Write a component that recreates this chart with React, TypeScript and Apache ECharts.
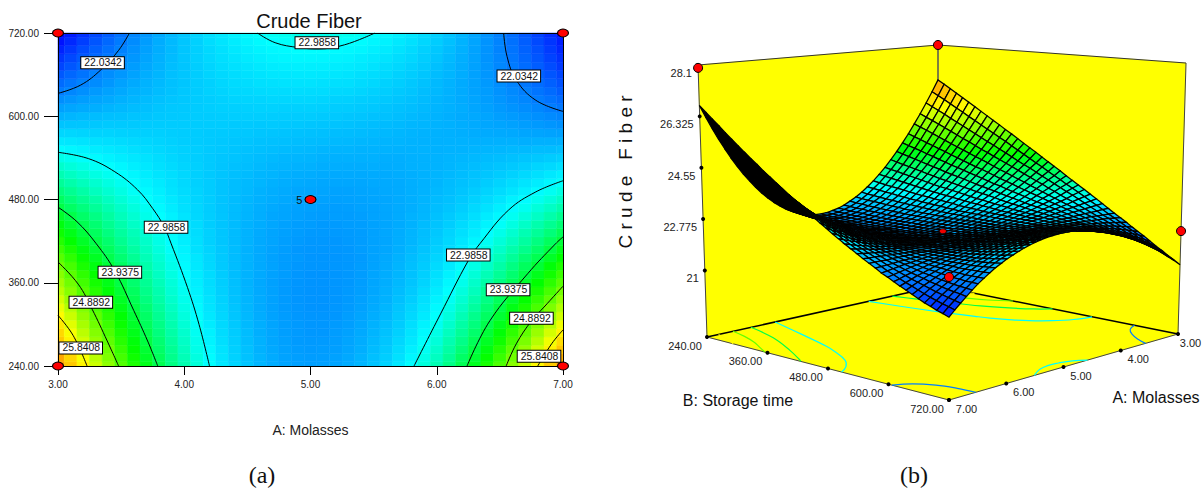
import React, { useEffect, useRef } from "react";
import * as echarts from "echarts";

// Crude Fiber x 100: rows run over B (240 -> 720, step 12), columns over A (3 -> 7, step 0.1)
const Z_X100 = [
[2674,2630,2589,2550,2514,2479,2447,2417,2389,2363,2340,2319,2300,2283,2269,2257,2246,2238,2233,2229,2228,2229,2232,2238,2245,2255,2267,2282,2298,2317,2338,2361,2387,2414,2444,2476,2511,2547,2586,2627,2670],
[2659,2617,2577,2539,2504,2470,2439,2410,2383,2358,2336,2315,2297,2280,2266,2254,2244,2237,2231,2228,2226,2227,2230,2235,2243,2252,2263,2277,2293,2311,2331,2353,2378,2404,2433,2463,2496,2532,2569,2608,2650],
[2644,2604,2565,2529,2495,2462,2432,2404,2377,2354,2332,2311,2294,2278,2264,2253,2242,2235,2230,2226,2225,2226,2228,2233,2240,2249,2260,2273,2288,2305,2325,2346,2369,2395,2422,2452,2484,2517,2553,2591,2630],
[2629,2590,2553,2518,2485,2453,2425,2397,2372,2349,2328,2308,2291,2275,2263,2251,2242,2234,2229,2225,2224,2225,2227,2232,2238,2247,2257,2269,2283,2300,2318,2339,2360,2385,2411,2439,2470,2502,2536,2572,2611],
[2614,2576,2540,2507,2475,2445,2417,2391,2366,2344,2324,2305,2289,2273,2261,2250,2240,2234,2228,2225,2223,2223,2226,2230,2236,2244,2254,2265,2279,2295,2312,2332,2352,2375,2401,2427,2457,2487,2520,2554,2590],
[2599,2563,2528,2496,2465,2436,2410,2384,2361,2340,2320,2302,2285,2271,2259,2248,2240,2232,2227,2224,2222,2222,2225,2228,2234,2242,2251,2261,2275,2290,2306,2325,2345,2366,2391,2416,2443,2472,2504,2537,2571],
[2584,2549,2516,2485,2455,2428,2402,2378,2355,2335,2316,2298,2283,2269,2257,2247,2238,2231,2226,2223,2221,2221,2222,2227,2232,2239,2247,2259,2271,2284,2300,2317,2337,2358,2380,2404,2431,2459,2488,2519,2552],
[2569,2536,2504,2474,2446,2419,2395,2372,2350,2330,2312,2295,2280,2267,2256,2246,2237,2230,2225,2222,2220,2220,2222,2225,2230,2237,2245,2256,2267,2280,2295,2311,2329,2349,2371,2394,2419,2445,2473,2503,2534],
[2554,2522,2492,2464,2437,2411,2387,2365,2344,2325,2308,2292,2278,2266,2254,2245,2237,2230,2225,2221,2220,2220,2221,2224,2229,2235,2242,2252,2263,2276,2290,2305,2322,2341,2362,2384,2407,2432,2459,2486,2516],
[2539,2509,2480,2453,2427,2403,2381,2359,2340,2321,2305,2290,2276,2264,2253,2244,2236,2230,2225,2221,2220,2220,2221,2224,2228,2234,2241,2250,2260,2272,2285,2299,2316,2333,2353,2373,2395,2419,2444,2471,2499],
[2525,2496,2468,2442,2418,2395,2374,2354,2335,2318,2302,2287,2274,2263,2252,2243,2235,2229,2225,2221,2220,2220,2221,2223,2227,2233,2239,2247,2256,2267,2280,2294,2309,2326,2344,2363,2384,2406,2430,2455,2481],
[2510,2483,2457,2433,2410,2387,2367,2348,2330,2314,2299,2285,2273,2261,2251,2243,2236,2230,2226,2222,2220,2220,2221,2223,2226,2232,2238,2245,2254,2264,2276,2289,2303,2319,2336,2353,2373,2394,2416,2440,2465],
[2496,2471,2445,2422,2401,2380,2361,2342,2325,2310,2296,2283,2271,2260,2251,2243,2236,2231,2226,2223,2221,2221,2222,2223,2226,2231,2237,2244,2252,2261,2272,2284,2297,2312,2327,2344,2363,2382,2403,2426,2448],
[2481,2457,2434,2412,2391,2372,2354,2336,2321,2306,2293,2281,2269,2259,2250,2243,2236,2230,2226,2224,2221,2221,2221,2223,2225,2230,2235,2242,2250,2258,2268,2279,2292,2304,2319,2335,2352,2371,2389,2410,2432],
[2466,2444,2422,2402,2382,2364,2347,2331,2316,2302,2290,2277,2267,2258,2250,2242,2236,2231,2227,2223,2222,2222,2222,2223,2226,2230,2234,2240,2247,2255,2264,2274,2286,2299,2311,2326,2342,2358,2376,2396,2416],
[2452,2431,2410,2392,2374,2356,2340,2326,2312,2298,2287,2276,2265,2257,2249,2243,2236,2232,2228,2225,2223,2223,2222,2224,2226,2230,2233,2239,2245,2252,2261,2270,2281,2292,2304,2318,2332,2348,2364,2382,2400],
[2438,2418,2399,2382,2365,2349,2335,2321,2308,2296,2285,2274,2265,2257,2249,2243,2237,2232,2229,2226,2224,2224,2224,2225,2226,2230,2234,2238,2244,2251,2258,2267,2276,2286,2298,2310,2323,2338,2352,2368,2385],
[2423,2405,2389,2372,2356,2342,2328,2315,2304,2292,2282,2273,2263,2256,2249,2243,2238,2234,2230,2227,2226,2224,2225,2226,2227,2230,2233,2237,2242,2249,2255,2263,2272,2281,2291,2302,2314,2327,2341,2355,2370],
[2409,2393,2377,2362,2348,2334,2322,2310,2299,2289,2280,2270,2263,2256,2249,2244,2239,2234,2232,2229,2227,2226,2227,2226,2228,2231,2233,2237,2242,2246,2253,2260,2267,2275,2285,2294,2305,2317,2329,2342,2356],
[2395,2379,2366,2352,2339,2327,2316,2305,2295,2286,2277,2269,2262,2255,2250,2245,2240,2236,2233,2230,2229,2228,2227,2228,2230,2231,2234,2237,2240,2245,2251,2256,2263,2271,2278,2287,2297,2306,2318,2329,2341],
[2381,2367,2355,2343,2331,2320,2310,2300,2291,2283,2275,2268,2262,2255,2250,2246,2241,2238,2235,2232,2231,2230,2229,2230,2231,2232,2234,2237,2240,2244,2249,2253,2259,2266,2272,2280,2289,2297,2307,2317,2328],
[2366,2355,2344,2332,2322,2313,2303,2295,2288,2279,2273,2267,2261,2255,2251,2247,2242,2239,2237,2234,2233,2232,2231,2231,2232,2233,2235,2237,2240,2243,2247,2251,2256,2261,2267,2273,2280,2288,2296,2305,2314],
[2352,2342,2333,2323,2314,2306,2298,2290,2284,2277,2271,2265,2261,2255,2251,2248,2245,2241,2239,2237,2235,2234,2234,2234,2234,2235,2236,2237,2240,2242,2245,2249,2253,2257,2262,2267,2273,2280,2286,2293,2301],
[2338,2330,2322,2313,2306,2299,2293,2286,2280,2275,2270,2264,2260,2256,2252,2249,2246,2244,2241,2239,2238,2237,2236,2236,2236,2237,2237,2238,2240,2242,2244,2247,2250,2254,2257,2261,2266,2271,2276,2282,2288],
[2325,2318,2312,2304,2298,2293,2287,2282,2277,2272,2268,2264,2260,2256,2253,2251,2248,2245,2244,2242,2241,2239,2239,2238,2238,2239,2238,2239,2241,2242,2243,2245,2248,2250,2253,2256,2259,2263,2268,2271,2276],
[2311,2306,2301,2296,2290,2286,2282,2278,2274,2269,2266,2263,2260,2257,2255,2252,2250,2248,2246,2245,2244,2242,2241,2241,2241,2241,2240,2240,2241,2242,2243,2244,2246,2247,2249,2251,2253,2256,2258,2261,2264],
[2297,2293,2290,2286,2283,2280,2276,2273,2270,2267,2265,2263,2260,2258,2256,2254,2252,2251,2249,2248,2247,2245,2244,2244,2243,2243,2243,2242,2242,2243,2242,2243,2243,2244,2245,2246,2247,2248,2250,2250,2252],
[2283,2281,2279,2277,2275,2273,2271,2269,2267,2265,2263,2261,2260,2258,2257,2256,2254,2253,2252,2251,2250,2249,2248,2247,2246,2245,2244,2244,2243,2242,2242,2242,2242,2241,2241,2241,2241,2240,2241,2241,2241],
[2269,2269,2268,2267,2267,2266,2265,2264,2264,2263,2262,2261,2260,2260,2259,2258,2257,2256,2255,2254,2253,2252,2251,2250,2249,2248,2247,2246,2244,2243,2242,2241,2240,2238,2237,2236,2235,2233,2232,2231,2230],
[2255,2256,2257,2258,2260,2260,2260,2261,2261,2261,2261,2261,2261,2261,2260,2260,2259,2260,2259,2258,2257,2256,2255,2254,2252,2251,2249,2248,2246,2245,2243,2241,2239,2237,2234,2232,2230,2227,2224,2221,2218],
[2242,2245,2248,2250,2252,2253,2255,2256,2258,2259,2260,2261,2261,2262,2263,2263,2263,2262,2262,2261,2261,2260,2259,2257,2256,2254,2253,2251,2248,2246,2243,2240,2237,2235,2232,2228,2225,2221,2217,2213,2209],
[2229,2233,2237,2240,2244,2247,2250,2252,2256,2258,2259,2261,2263,2264,2264,2265,2266,2266,2265,2265,2265,2264,2262,2261,2260,2258,2255,2253,2251,2248,2244,2241,2238,2233,2229,2224,2220,2215,2210,2204,2199],
[2215,2221,2227,2232,2236,2241,2245,2249,2253,2256,2258,2261,2263,2265,2267,2268,2268,2269,2269,2269,2269,2268,2266,2265,2263,2261,2259,2256,2253,2249,2245,2241,2237,2232,2227,2221,2215,2210,2203,2196,2189],
[2202,2210,2217,2224,2230,2235,2241,2245,2250,2254,2258,2261,2265,2267,2270,2271,2272,2273,2273,2274,2273,2273,2271,2270,2268,2265,2263,2259,2256,2251,2247,2242,2237,2231,2226,2219,2212,2205,2197,2189,2180],
[2189,2198,2207,2214,2222,2230,2236,2243,2248,2253,2257,2262,2265,2269,2272,2274,2276,2277,2278,2278,2278,2277,2276,2275,2272,2270,2266,2263,2258,2254,2248,2243,2237,2231,2224,2216,2208,2199,2191,2181,2171],
[2175,2186,2196,2206,2215,2223,2231,2239,2245,2252,2257,2262,2267,2271,2274,2277,2279,2281,2282,2283,2283,2282,2281,2279,2276,2274,2271,2266,2262,2257,2250,2245,2238,2230,2222,2214,2204,2195,2185,2173,2162],
[2161,2174,2186,2197,2208,2217,2226,2235,2243,2251,2256,2263,2268,2273,2277,2280,2283,2285,2287,2288,2287,2287,2286,2284,2282,2278,2274,2270,2265,2260,2252,2246,2238,2230,2221,2211,2201,2190,2179,2166,2153],
[2149,2163,2177,2189,2201,2212,2222,2232,2241,2249,2257,2264,2270,2275,2280,2284,2287,2290,2292,2293,2293,2292,2291,2289,2286,2283,2279,2274,2269,2263,2256,2248,2240,2231,2220,2210,2198,2186,2174,2160,2146],
[2135,2151,2166,2181,2194,2206,2218,2229,2239,2248,2257,2264,2271,2277,2283,2287,2291,2294,2296,2298,2298,2298,2296,2294,2292,2288,2284,2278,2272,2265,2258,2250,2241,2231,2220,2208,2196,2183,2169,2154,2138],
[2123,2140,2156,2173,2187,2201,2214,2226,2238,2248,2257,2265,2274,2280,2286,2291,2295,2299,2301,2303,2303,2304,2302,2300,2297,2293,2289,2283,2277,2269,2262,2253,2243,2232,2220,2208,2194,2180,2164,2149,2132],
[2110,2129,2146,2164,2180,2195,2210,2223,2236,2247,2257,2267,2275,2282,2290,2295,2300,2304,2306,2309,2309,2309,2308,2306,2303,2299,2294,2288,2281,2273,2265,2255,2245,2233,2220,2207,2192,2176,2160,2143,2125],
];

const A_TICKS = [3, 4, 5, 6, 7];
const B_TICKS = [240, 360, 480, 600, 720];
const Z_TICKS = [21, 22.775, 24.55, 26.325, 28.1];

// contour lines, [A, B] pairs
const C_22_TL = [[3, 633], [3.18, 645], [3.34, 667], [3.48, 695], [3.566, 720]];
const C_22_TR = [[6.53, 720], [6.557, 686], [6.63, 652], [6.785, 623], [7, 607]];
const C_23_TOP = [[4.58, 720], [4.72, 706], [4.905, 699], [5.06, 697], [5.27, 703], [5.51, 720]];
const C_23_L = [[3, 548], [3.24, 539], [3.45, 520], [3.63, 494], [3.75, 467], [3.84, 441], [3.895, 417], [4.026, 353], [4.117, 300], [4.2, 240]];
const C_23_R = [[7, 507], [6.785, 491], [6.57, 465], [6.345, 417], [6.25, 392], [6.03, 315], [5.82, 240]];
const C_24_L = [[3, 469], [3.15, 448], [3.3, 417], [3.45, 377], [3.6, 320], [3.71, 276], [3.79, 240]];
const C_24_R = [[7, 426], [6.94, 416], [6.72, 373], [6.42, 305], [6.24, 240]];
const C_25_L = [[3, 390], [3.16, 358], [3.27, 322], [3.39, 276], [3.48, 240]];
const C_25_R = [[7, 355], [6.85, 325], [6.75, 305], [6.63, 272], [6.55, 240]];
const C_26_L = [[3, 313], [3.12, 284], [3.23, 240]];
const C_26_R = [[7, 292], [6.91, 272], [6.8, 240]];
const CONTOURS = [
  { level: 22.0342, points: C_22_TL }, { level: 22.0342, points: C_22_TR },
  { level: 22.9858, points: C_23_TOP }, { level: 22.9858, points: C_23_L }, { level: 22.9858, points: C_23_R },
  { level: 23.9375, points: C_24_L }, { level: 23.9375, points: C_24_R },
  { level: 24.8892, points: C_25_L }, { level: 24.8892, points: C_25_R },
  { level: 25.8408, points: C_26_L }, { level: 25.8408, points: C_26_R },
];
const CONTOUR_LABELS = [
  [3.353, 677, 22.0342], [5.05, 706, 22.9858], [6.65, 658, 22.0342], [3.856, 440, 22.9858], [6.25, 400, 22.9858],
  [3.49, 375, 23.9375], [3.26, 332, 24.8892], [3.18, 266, 25.8408], [6.565, 350, 23.9375], [6.75, 309, 24.8892], [6.81, 254, 25.8408],
];
const DESIGN_POINTS_2D = [[3, 240], [7, 240], [3, 720], [7, 720]];
const CENTER_POINT_2D = [[5, 480]];
const DESIGN_POINTS_3D = [[7, 240, 28.0], [3, 240, 28.1], [3, 720, 22.27], [7, 720, 22.49]];
const CENTER_POINT_3D = [5, 480, 22.43];

const SANS = '"Liberation Sans", Arial, sans-serif';
const SERIF = '"Liberation Serif", "Times New Roman", serif';
const TEXT = "#222";

const STOPS: any[] = [[21.1, [0, 0, 255]], [22.99, [0, 255, 255]], [24.3, [0, 255, 0]], [25.8, [255, 255, 0]], [28.1, [255, 0, 0]]];
function colorOf(v: number) {
  for (let k = 1; k < STOPS.length; k++) {
    if (v <= STOPS[k][0] || k === STOPS.length - 1) {
      const [v0, c0] = STOPS[k - 1];
      const [v1, c1] = STOPS[k];
      const t = Math.max(0, Math.min(1, (v - v0) / (v1 - v0)));
      return `rgb(${c0.map((c: number, n: number) => Math.round(c + (c1[n] - c) * t)).join(",")})`;
    }
  }
  return "#000";
}

// the box of the 3D view: floor and ceiling corners on screen
const FLOOR = { a7b240: [707, 337], a3b240: [938, 286], a3b720: [1178, 334], a7b720: [949, 400] };
const CEIL = { a7b240: [698, 65], a3b240: [938, 45], a3b720: [1186, 63], a7b720: [949, 95] };
const Z_FLOOR = 18.7;
const Z_CEIL = 28.1;
function corner(c: any, A: number, B: number) {
  const u = (7 - A) / 4;
  const v = (B - 240) / 480;
  const p = (n: number) =>
    (1 - u) * (1 - v) * c.a7b240[n] + u * (1 - v) * c.a3b240[n] + u * v * c.a3b720[n] + (1 - u) * v * c.a7b720[n];
  return [p(0), p(1)];
}
function project(A: number, B: number, z: number) {
  const f = corner(FLOOR, A, B);
  const t = corner(CEIL, A, B);
  const h = (z - Z_FLOOR) / (Z_CEIL - Z_FLOOR);
  return [f[0] + (t[0] - f[0]) * h, f[1] + (t[1] - f[1]) * h];
}
const zAt = (i: number, j: number) => Z_X100[j][i] / 100;
const aAt = (i: number) => 3 + i * 0.1;
const bAt = (j: number) => 240 + j * 12;

function buildOption(): any {
  const heatData: number[][] = [];
  const meshData: number[][] = [];
  for (let j = 0; j < Z_X100.length; j++) {
    for (let i = 0; i < Z_X100[j].length; i++) {
      heatData.push([aAt(i), bAt(j), zAt(i, j)]);
      if (i < 40 && j < 40) meshData.push([i, j]);
    }
  }

  const txt = (x: number, y: number, text: string, align = "center", size = 10.5) => ({
    type: "text",
    silent: true,
    style: { x, y, text, fill: TEXT, font: `${size}px ${SANS}`, textAlign: align, textVerticalAlign: "middle" },
  });
  const poly = (pts: number[][], style: any) => ({ type: "polygon", silent: true, shape: { points: pts }, style });
  const ln = (a: number[], b: number[], stroke: string, lineWidth: number) => ({
    type: "line", silent: true, shape: { x1: a[0], y1: a[1], x2: b[0], y2: b[1] }, style: { stroke, lineWidth },
  });
  const dot = (p: number[], r = 2) => ({ type: "circle", silent: true, shape: { cx: p[0], cy: p[1], r }, style: { fill: "#000" } });

  const series: any[] = [
    {
      type: "custom",
      name: "contour-fill",
      z: 1,
      silent: true,
      data: heatData,
      renderItem: (_: any, api: any) => {
        const A = api.value(0), B = api.value(1), v = api.value(2);
        const p0 = api.coord([Math.max(3, A - 0.05), Math.min(720, B + 6)]);
        const p1 = api.coord([Math.min(7, A + 0.05), Math.max(240, B - 6)]);
        const c = colorOf(v);
        return {
          type: "rect",
          shape: { x: p0[0], y: p0[1], width: p1[0] - p0[0], height: p1[1] - p0[1] },
          style: { fill: c, stroke: c, lineWidth: 0.5 },
        };
      },
    },
    ...CONTOURS.map((c) => ({
      type: "line",
      z: 3,
      silent: true,
      data: c.points,
      smooth: 0.4,
      symbol: "none",
      lineStyle: { color: "#000", width: 1 },
    })),
    {
      type: "scatter",
      z: 4,
      silent: true,
      data: CONTOUR_LABELS,
      symbolSize: 1,
      itemStyle: { color: "transparent", opacity: 1 },
      label: {
        show: true,
        position: "inside",
        formatter: (p: any) => p.value[2].toFixed(4),
        color: "#111",
        fontFamily: SANS,
        fontSize: 10.4,
        backgroundColor: "#fff",
        borderColor: "#000",
        borderWidth: 1,
        opacity: 1,
        padding: [1, 2, 0, 3],
      },
    },
    {
      type: "scatter",
      z: 6,
      silent: true,
      clip: false,
      data: DESIGN_POINTS_2D,
      symbol: "circle",
      symbolSize: [11, 8],
      itemStyle: { color: "#f00", borderColor: "#000", borderWidth: 1, opacity: 1 },
    },
    {
      type: "scatter",
      z: 6,
      silent: true,
      clip: false,
      data: CENTER_POINT_2D,
      symbol: "circle",
      symbolSize: [11, 8],
      itemStyle: { color: "#f00", borderColor: "#000", borderWidth: 1, opacity: 1 },
      label: { show: true, position: "left", distance: 2, formatter: "5", color: "#111", fontFamily: SANS, fontSize: 11 },
    },
    // 3D view: walls, floor and axes
    {
      type: "custom",
      coordinateSystem: "none",
      z: 1,
      silent: true,
      data: [[0]],
      renderItem: () => {
        const f = (A: number, B: number) => project(A, B, Z_FLOOR);
        const t = (A: number, B: number) => project(A, B, Z_CEIL);
        const yellow = { fill: "#ffff00", stroke: "#ffff00", lineWidth: 0.5 };
        const children: any[] = [
          poly([f(7, 240), f(3, 240), t(3, 240), t(7, 240)], yellow),
          poly([f(3, 240), f(3, 720), t(3, 720), t(3, 240)], yellow),
          poly([f(7, 240), f(3, 240), f(3, 720), f(7, 720)], yellow),
          ln(t(7, 240), t(3, 240), "#333", 1),
          ln(t(3, 240), t(3, 720), "#333", 1),
          ln(t(3, 240), f(3, 240), "#555", 1.5),
          ln(t(7, 240), f(7, 240), "#444", 1),
          ln(t(3, 720), f(3, 720), "#444", 1),
          ln(f(7, 240), f(3, 240), "#000", 1.5),
          ln(f(3, 240), f(3, 720), "#000", 1.5),
          ln(f(7, 240), f(7, 720), "#444", 1),
          ln(f(7, 720), f(3, 720), "#444", 1),
        ];
        CONTOURS.forEach((c) => {
          children.push({
            type: "polyline",
            silent: true,
            shape: { points: c.points.map((p) => f(p[0], p[1])), smooth: 0.4 },
            style: { stroke: colorOf(c.level), lineWidth: 1.2, fill: "none" },
          });
        });
        Z_TICKS.forEach((z) => {
          const p = project(7, 240, z);
          children.push(dot(p));
          children.push(txt(p[0] - 6, p[1] + 8, String(z), "right", 11));
        });
        B_TICKS.forEach((b) => {
          const p = f(7, b);
          children.push(dot(p));
          children.push(txt(p[0] - 22, p[1] + 8.5, b.toFixed(2), "center", 11));
        });
        A_TICKS.forEach((a) => {
          const p = f(a, 720);
          children.push(dot(p));
          children.push(txt(Math.min(p[0] + 17.5, 1190.5), p[1] + 8.5, a.toFixed(2), "center", 11));
        });
        return { type: "group", children };
      },
    },
    // 3D view: the surface, painted from the back corner to the front; faces seen from below are black
    {
      type: "custom",
      coordinateSystem: "none",
      z: 2,
      silent: true,
      data: meshData,
      renderItem: (_: any, api: any) => {
        const i = api.value(0), j = api.value(1);
        const c = [[i, j], [i + 1, j], [i + 1, j + 1], [i, j + 1]];
        const avg = c.reduce((s, q) => s + zAt(q[0], q[1]), 0) / 4;
        const pts = c.map((q) => project(aAt(q[0]), bAt(q[1]), zAt(q[0], q[1])));
        const ax = pts[1][0] - pts[0][0], ay = pts[1][1] - pts[0][1];
        const bx = pts[3][0] - pts[0][0], by = pts[3][1] - pts[0][1];
        const seenFromBelow = ax * by - ay * bx > 0;
        return {
          type: "polygon",
          shape: { points: pts },
          style: { fill: seenFromBelow ? "#000" : colorOf(avg), stroke: "#000", lineWidth: 1.25 },
        };
      },
    },
    {
      type: "custom",
      coordinateSystem: "none",
      z: 3,
      silent: true,
      data: DESIGN_POINTS_3D,
      renderItem: (_: any, api: any) => {
        const p = project(api.value(0), api.value(1), api.value(2));
        return {
          type: "circle",
          shape: { cx: p[0], cy: p[1], r: 4.5 },
          style: { fill: "#f00", stroke: "#000", lineWidth: 1 },
        };
      },
    },
    {
      type: "custom",
      coordinateSystem: "none",
      z: 3,
      silent: true,
      data: [CENTER_POINT_3D],
      renderItem: (_: any, api: any) => {
        const p = project(api.value(0), api.value(1), api.value(2));
        return {
          type: "ellipse",
          shape: { cx: p[0], cy: p[1], rx: 3.5, ry: 2.5 },
          style: { fill: "#e00", stroke: "#000", lineWidth: 0.8 },
        };
      },
    },
  ];

  const axisBase = {
    axisLine: { show: true, lineStyle: { color: "#000", width: 1 } },
    splitLine: { show: false },
    z: 5,
  };
  const labelBase = { color: TEXT, fontFamily: SANS, fontSize: 10 };

  return {
    animation: false,
    backgroundColor: "#fff",
    grid: { left: 58, top: 33, width: 505, height: 333, show: false },
    xAxis: [
      {
        ...axisBase,
        type: "value",
        min: 3,
        max: 7,
        interval: 1,
        position: "bottom",
        axisTick: { show: true, length: 9, lineStyle: { color: "#000" } },
        axisLabel: { ...labelBase, margin: 13, formatter: (v: number) => v.toFixed(2) },
        name: "A: Molasses",
        nameLocation: "middle",
        nameGap: 57,
        nameTextStyle: { color: TEXT, fontFamily: SANS, fontSize: 14 },
      },
      { ...axisBase, type: "value", min: 3, max: 7, position: "top", axisTick: { show: false }, axisLabel: { show: false } },
    ],
    yAxis: [
      {
        ...axisBase,
        type: "value",
        min: 240,
        max: 720,
        interval: 120,
        position: "left",
        axisTick: { show: true, length: 14, lineStyle: { color: "#000" } },
        axisLabel: { ...labelBase, margin: 19, formatter: (v: number) => v.toFixed(2) },
      },
      { ...axisBase, type: "value", min: 240, max: 720, position: "right", axisTick: { show: false }, axisLabel: { show: false } },
    ],
    series,
    graphic: [
      { type: "text", silent: true, style: { x: 309, y: 21, text: "Crude Fiber", fill: "#111", font: `20px ${SANS}`, textAlign: "center", textVerticalAlign: "middle" } },
      { type: "text", silent: true, style: { x: 262, y: 475, text: "(a)", fill: "#111", font: `24px ${SERIF}`, textAlign: "center", textVerticalAlign: "middle" } },
      { type: "text", silent: true, style: { x: 914, y: 475, text: "(b)", fill: "#111", font: `24px ${SERIF}`, textAlign: "center", textVerticalAlign: "middle" } },
      { type: "text", silent: true, x: 625, y: 172, rotation: Math.PI / 2, style: { text: "C r u d e   F i b e r", fill: "#111", font: `19px ${SANS}`, textAlign: "center", textVerticalAlign: "middle" } },
      { type: "text", silent: true, style: { x: 738, y: 400, text: "B: Storage time", fill: "#111", font: `16px ${SANS}`, textAlign: "center", textVerticalAlign: "middle" } },
      { type: "text", silent: true, style: { x: 1156, y: 397, text: "A: Molasses", fill: "#111", font: `16px ${SANS}`, textAlign: "center", textVerticalAlign: "middle" } },
      { type: "line", silent: true, shape: { x1: 756, y1: 215, x2: 756, y2: 241 }, style: { stroke: "#555", lineWidth: 1 } },
    ],
  };
}

export default function App() {
  const ref = useRef<HTMLDivElement | null>(null);
  useEffect(() => {
    const chart = echarts.init(ref.current as HTMLDivElement, undefined, { renderer: "svg" });
    chart.setOption(buildOption());
    return () => chart.dispose();
  }, []);
  return <div ref={ref} style={{ position: "fixed", left: 0, top: 0, width: 1203, height: 488 }} />;
}
